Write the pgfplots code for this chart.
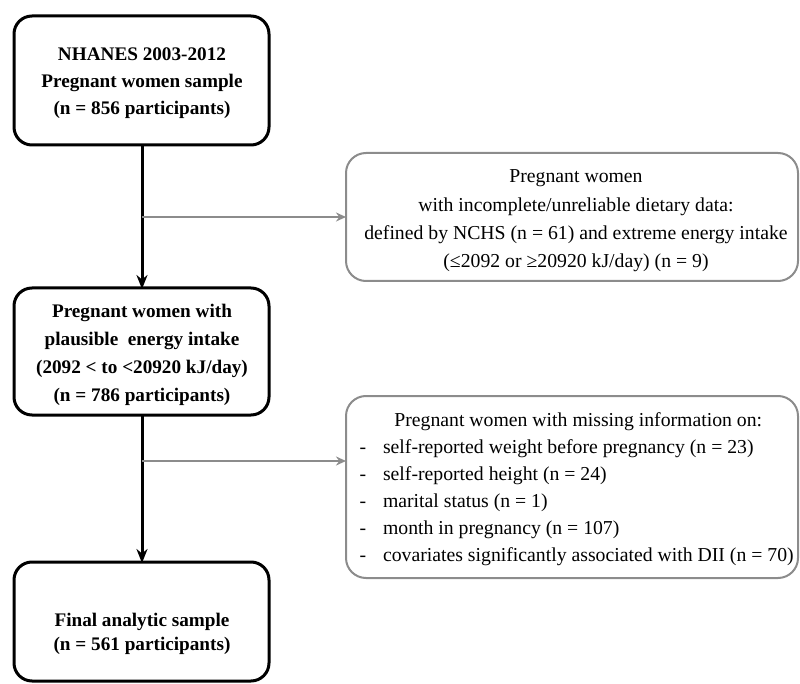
\documentclass[border=0pt]{standalone}
\usepackage{fontspec}
\setmainfont{Liberation Serif}
\usepackage{pgfplots}
\pgfplotsset{compat=1.18}
\usetikzlibrary{arrows.meta}
\definecolor{boxgray}{HTML}{8C8C8C}
\begin{document}
\begin{tikzpicture}
\begin{axis}[
  scale only axis, width=600pt, height=513pt,
  xmin=0, xmax=800, ymin=0, ymax=684, y dir=reverse,
  axis lines=none, ticks=none, clip=false,
]
% main boxes (black)
\addplot[black, line width=2.25pt, rounded corners=13.5pt] coordinates {(142,16) (269,16) (269,145) (14,145) (14,16) (142,16)};
\addplot[black, line width=2.25pt, rounded corners=13.5pt] coordinates {(142,288) (269,288) (269,415) (14,415) (14,288) (142,288)};
\addplot[black, line width=2.25pt, rounded corners=13.5pt] coordinates {(142,562) (269,562) (269,681) (14,681) (14,562) (142,562)};
% side boxes (gray)
\addplot[boxgray, line width=1.5pt, rounded corners=15pt] coordinates {(570,153) (798,153) (798,281) (346,281) (346,153) (570,153)};
\addplot[boxgray, line width=1.5pt, rounded corners=15pt] coordinates {(570,396) (798,396) (798,578) (346,578) (346,396) (570,396)};
% vertical arrows
\addplot[black, line width=2.25pt, -{Stealth[length=10.5pt,width=8.25pt]}] coordinates {(142,145) (142,289)};
\addplot[black, line width=2.25pt, -{Stealth[length=10.5pt,width=8.25pt]}] coordinates {(142,415) (142,563)};
% horizontal arrows
\addplot[boxgray, line width=1.5pt, -{Stealth[length=7.5pt,width=6.75pt]}] coordinates {(142,217) (346,217)};
\addplot[boxgray, line width=1.5pt, -{Stealth[length=7.5pt,width=6.75pt]}] coordinates {(142,461) (346,461)};
% texts
\node[align=center, font=\fontsize{14.4}{20}\selectfont\bfseries] at (axis cs:142,83) {NHANES 2003-2012\\Pregnant women sample\\(n = 856 participants)};
\node[align=center, font=\fontsize{14.4}{21}\selectfont\bfseries] at (axis cs:142,355) {Pregnant women with\\plausible\ \ energy intake\\(2092 < to <20920 kJ/day)\\(n = 786 participants)};
\node[align=center, font=\fontsize{14.4}{18}\selectfont\bfseries] at (axis cs:142,634) {Final analytic sample\\(n = 561 participants)};
\node[align=center, font=\fontsize{14.8}{21.3}\selectfont] at (axis cs:576,221) {Pregnant women\\with incomplete/unreliable dietary data:\\defined by NCHS (n = 61) and extreme energy intake\\(≤2092 or ≥20920 kJ/day) (n = 9)};
\node[anchor=west, align=left, font=\fontsize{14.8}{20.3}\selectfont] at (axis cs:355,489) {\hspace*{26pt}Pregnant women with missing information on:\\
\makebox[17.5pt][l]{-}self-reported weight before pregnancy (n = 23)\\
\makebox[17.5pt][l]{-}self-reported height (n = 24)\\
\makebox[17.5pt][l]{-}marital status (n = 1)\\
\makebox[17.5pt][l]{-}month in pregnancy (n = 107)\\
\makebox[17.5pt][l]{-}covariates significantly associated with DII (n = 70)};
\end{axis}
\pgfresetboundingbox
\path (current axis.south west) rectangle (current axis.north east);
\end{tikzpicture}
\end{document}
